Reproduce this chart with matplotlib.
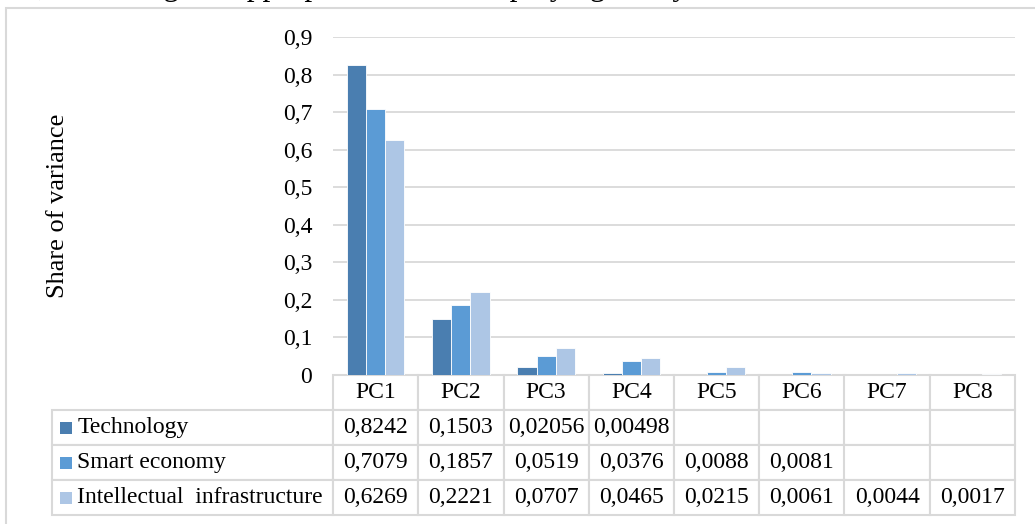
import matplotlib
matplotlib.use("Agg")
import matplotlib.pyplot as plt
from matplotlib.patches import Rectangle
import numpy as np

plt.rcParams['font.family'] = ['Liberation Serif', 'DejaVu Serif']

# data
categories = ['PC1', 'PC2', 'PC3', 'PC4', 'PC5', 'PC6', 'PC7', 'PC8']
technology = [0.8242, 0.1503, 0.02056, 0.00498, None, None, None, None]
smart_economy = [0.7079, 0.1857, 0.0519, 0.0376, 0.0088, 0.0081, None, None]
intellectual = [0.6269, 0.2221, 0.0707, 0.0465, 0.0215, 0.0061, 0.0044, 0.0017]
series_names = ['Technology', 'Smart economy', 'Intellectual  infrastructure']
series = [technology, smart_economy, intellectual]
colors = ['#4A7EB0', '#5B9BD5', '#ADC6E5']
yticks = [0, 0.1, 0.2, 0.3, 0.4, 0.5, 0.6, 0.7, 0.8, 0.9]

FS = 17
GRID = '#D9D9D9'

fig = plt.figure(figsize=(10.35, 5.24), dpi=100)
ax = fig.add_axes([333 / 1035, 1 - 375 / 524, 682 / 1035, 338 / 524])

# outer frame of the chart object
fig.patches.append(Rectangle((6 / 1035, -0.05), 1.1, 1 - 8 / 524 + 0.05,
                             transform=fig.transFigure, fill=False,
                             edgecolor=GRID, linewidth=1.5))

# cropped line of the document above the chart (only its lower edge shows)
fig.text(26 / 1035, 1 + 5 / 524,
         's, indicating the appropriateness of employing solely PC1 and PC2 in further',
         fontsize=22.5, ha='left', va='baseline')

x = np.arange(len(categories))
w = 0.224
for i, (vals, col) in enumerate(zip(series, colors)):
    v = np.array([np.nan if a is None else a for a in vals], dtype=float)
    ax.bar(x + (i - 1) * w, v, width=w, color=col, edgecolor='white',
           linewidth=0.6, zorder=3)

ax.set_xlim(-0.5, len(categories) - 0.5)
ax.set_ylim(0, 0.9)
ax.set_yticks(yticks)
ax.set_yticklabels(['0' if t == 0 else ('%.1f' % t).replace('.', ',') for t in yticks],
                   fontsize=FS)
ax.tick_params(axis='y', length=0, pad=15)
ax.set_xticks([])
ax.grid(axis='y', color=GRID, linewidth=1.3, zorder=0)
for s in ax.spines.values():
    s.set_visible(False)
ax.set_ylabel('Share of variance', fontsize=19)
ax.yaxis.set_label_coords(-(333 - 69) / 682, 0.5)


def fmt(v):
    return '' if v is None else str(v).replace('.', ',')


cell_text = [[''] + [fmt(v) for v in vals] for vals in series]
label_w = 281
col_w = 85.25
total_w = label_w + col_w * len(categories)
tb_h = 140 / 338
tb_y0 = -tb_h
tb = ax.table(cellText=cell_text, colLabels=[''] + categories,
              colWidths=[label_w / total_w] + [col_w / total_w] * len(categories),
              cellLoc='center',
              bbox=[-label_w / 682, tb_y0, total_w / 682, tb_h])
tb.auto_set_font_size(False)
tb.set_fontsize(FS)
for (r, c), cell in tb.get_celld().items():
    cell.set_edgecolor(GRID)
    cell.set_linewidth(1.5)
    if r == 0 and c == 0:
        cell.visible_edges = ''
    if r > 0 and c == 0:
        cell.get_text().set_text(series_names[r - 1])
        cell.get_text().set_ha('left')
        cell._loc = 'left'
        cell.PAD = 0.09

# legend keys in the row labels
n_rows = 4
row_h = tb_h / n_rows
sq_w = 12 / 682
sq_h = 12 / 338
for i, col in enumerate(colors):
    yc = tb_y0 + tb_h - (i + 1.5) * row_h
    ax.add_patch(Rectangle(((60 - 333) / 682, yc - sq_h / 2), sq_w, sq_h,
                           transform=ax.transAxes, facecolor=col,
                           edgecolor='none', clip_on=False))

fig.savefig('out.png', dpi=100)
